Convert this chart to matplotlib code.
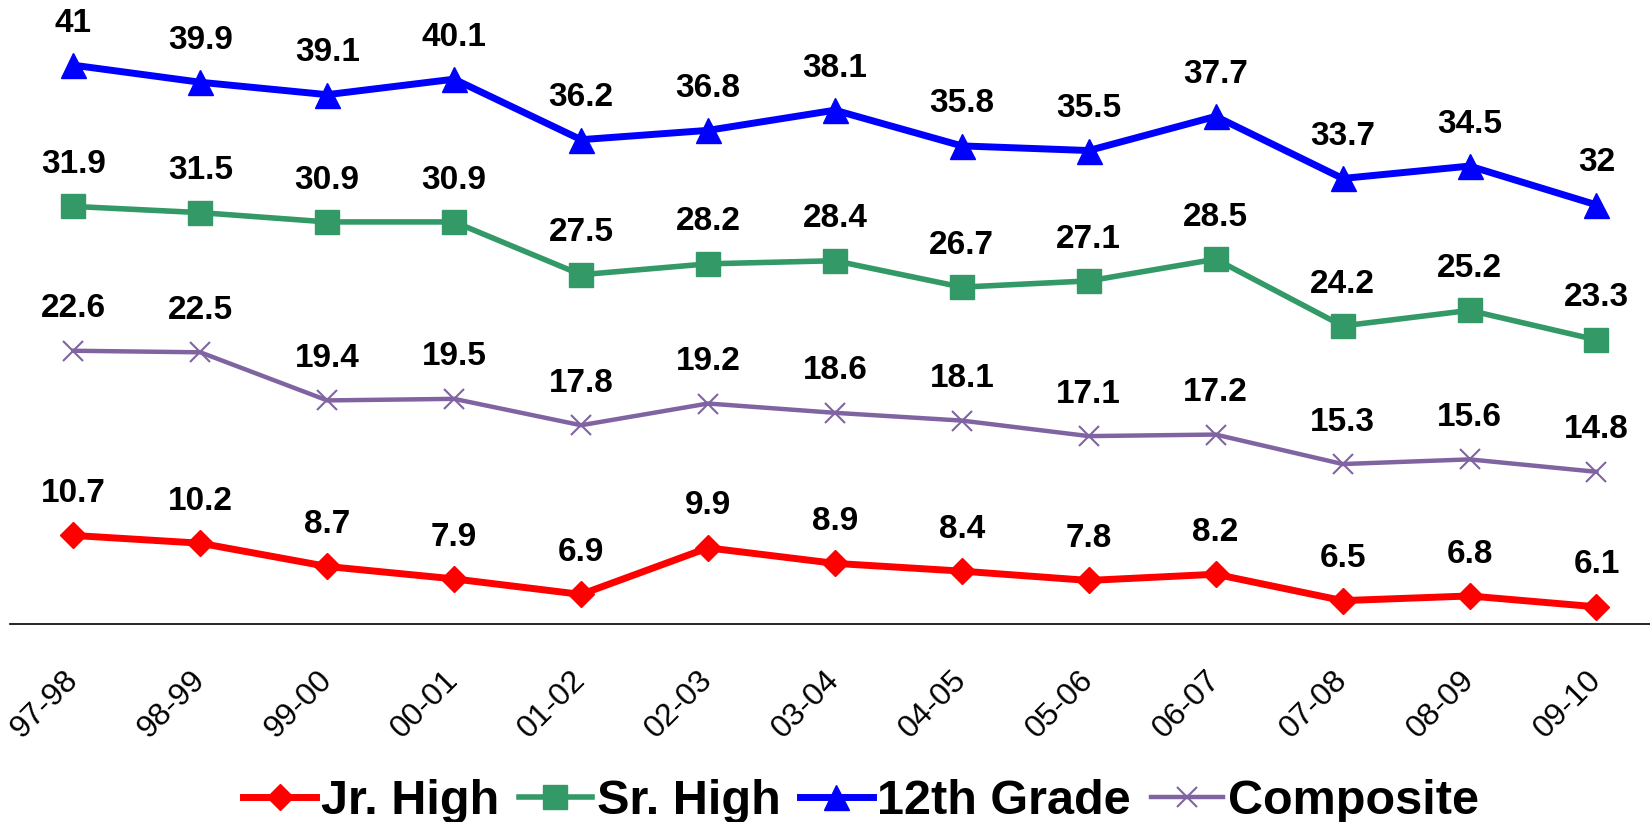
import numpy as np
import matplotlib.pyplot as plt

plt.rcParams['font.family'] = ['Liberation Sans', 'DejaVu Sans']

years = ['97-98', '98-99', '99-00', '00-01', '01-02', '02-03', '03-04',
         '04-05', '05-06', '06-07', '07-08', '08-09', '09-10']
jr_high = [10.7, 10.2, 8.7, 7.9, 6.9, 9.9, 8.9, 8.4, 7.8, 8.2, 6.5, 6.8, 6.1]
sr_high = [31.9, 31.5, 30.9, 30.9, 27.5, 28.2, 28.4, 26.7, 27.1, 28.5, 24.2, 25.2, 23.3]
grade12 = [41, 39.9, 39.1, 40.1, 36.2, 36.8, 38.1, 35.8, 35.5, 37.7, 33.7, 34.5, 32]
composite = [22.6, 22.5, 19.4, 19.5, 17.8, 19.2, 18.6, 18.1, 17.1, 17.2, 15.3, 15.6, 14.8]

series = [
    ('Jr. High', jr_high, '#FF0000', 'D', 5, 13),
    ('Sr. High', sr_high, '#339966', 's', 4, 17),
    ('12th Grade', grade12, '#0000FF', '^', 5, 18),
    ('Composite', composite, '#8064A2', 'x', 3.2, 14),
]

fig = plt.figure(figsize=(16.5, 8.22), dpi=100)
ax = fig.add_axes([0.006, 0.241, 1.0, 0.759])
x = np.arange(len(years))

for name, vals, col, mk, lw, ms in series:
    ax.plot(x, vals, color=col, marker=mk, lw=lw, ms=ms, label=name,
            mew=1.5 if mk == 'x' else 1, clip_on=False)
    for xi, v in zip(x, vals):
        ax.annotate(f'{v:g}', (xi, v), xytext=(0, 19), textcoords='offset points',
                    ha='center', va='bottom', fontsize=24, fontweight='bold')

ax.set_xlim(-0.5, 12.5)
ax.set_ylim(5, 45.2)
ax.set_xticks(x)
ax.set_xticklabels(years, rotation=45, ha='right', va='center',
                   rotation_mode='anchor', fontsize=23)
ax.tick_params(axis='x', length=0, pad=37)
ax.set_yticks([])
for s in ['top', 'right', 'left']:
    ax.spines[s].set_visible(False)
ax.spines['bottom'].set_linewidth(1.2)

fig.legend(loc='center', bbox_to_anchor=(0.522, 0.025), ncol=4, frameon=False,
           prop={'size': 35, 'weight': 'bold'}, handlelength=1.5,
           handletextpad=0.1, columnspacing=0.4, borderaxespad=0)

fig.savefig('out.png', dpi=100)
